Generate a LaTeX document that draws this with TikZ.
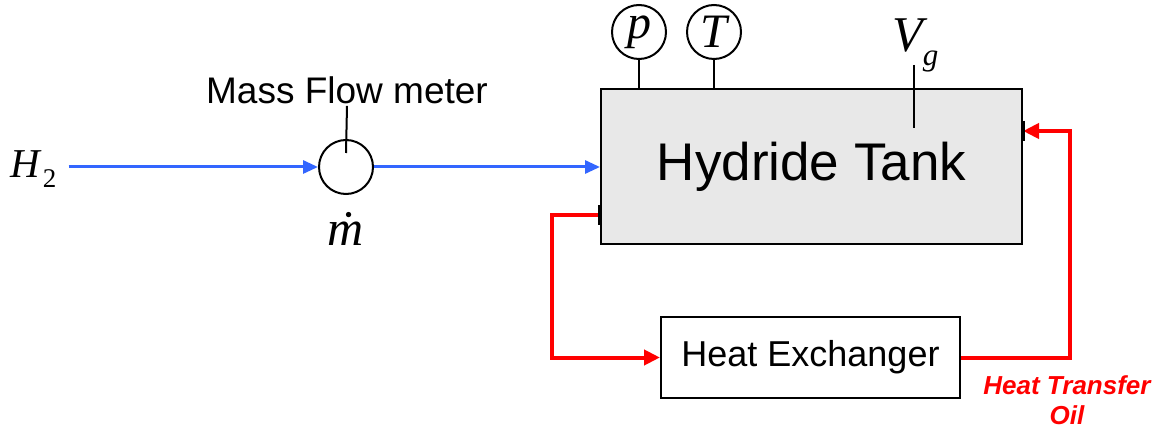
\documentclass[tikz,border=0pt]{standalone}
\usepackage{fontspec}
\setmainfont{Liberation Sans}
\newfontfamily\varfont{Liberation Serif}
\usetikzlibrary{arrows.meta,positioning,calc}
\definecolor{gasblue}{RGB}{51,102,255}
\definecolor{oilred}{RGB}{255,0,0}
\definecolor{tankgray}{RGB}{232,232,232}
\newcommand\fs[1]{\fontsize{#1}{#1}\selectfont}
\tikzset{
  >={Triangle[length=15pt,width=13pt]},
  gas/.style={draw=gasblue,line width=3pt,->},
  oil/.style={draw=oilred,line width=4pt,-{Triangle[length=16pt,width=15pt]}},
  gauge/.style={circle,draw,line width=2pt,minimum size=54pt,inner sep=0pt},
  unit/.style={draw,line width=2pt,inner sep=0pt,align=center},
  stem/.style={line width=2pt},
  port/.style={line width=3.5pt},
  var/.style={font=\varfont\itshape\fs{#1},inner sep=0pt},
  var/.default=46,
}

\begin{document}
\begin{tikzpicture}[x=1pt,y=-1pt]
  \useasboundingbox (0,0) rectangle (1161,430);
  % tank and heat exchanger
  \node[unit,fill=tankgray,minimum width=421pt,minimum height=155pt,font=\fs{53}] (tank) at (811.5,166.5) {Hydride Tank};
  \node[unit,fill=white,minimum width=299pt,minimum height=81pt,font=\fs{36}] (hx) at (810.5,357.5) {Heat Exchanger};
  % mass flow meter
  \node[gauge] (mfm) at (346,167) {};
  \node[font=\fs{37},inner sep=2pt] (mfmlab) at (347,90) {Mass Flow meter};
  \node[var=50] (mdot) at (346,229) {\.{m}};
  \node[var=41,anchor=base west] (h2) at (10,178) {H\hspace{3pt}\raisebox{-10pt}{\upshape\fs{27}2}};
  \draw[stem] (mfmlab.south) -- ([yshift=14pt]mfm.center);
  % sensors on the tank
  \node[gauge,var=48] (p) at (639,32) {p};
  \node[gauge,var=48] (T) at (714,32) {T};
  \node[var=50,anchor=base west] (vg) at (892,52) {V\raisebox{-14pt}{\fs{31}g}};
  \coordinate (vgtop) at (914,65);
  \coordinate (vgend) at (914,128);
  \foreach \s in {p,T}
    \draw[stem] (\s.south) -- (\s.south |- tank.north);
  \draw[stem] (vgtop) -- (vgend);
  % hydrogen line
  \draw[gas,shorten <=12pt] (h2.east |- mfm.west) -- (mfm.west);
  \draw[gas] (mfm.east) -- (mfm.east -| tank.west);
  % oil loop
  \coordinate (oilout) at ([yshift=30pt]tank.south west);
  \coordinate (oilin) at ([yshift=-43pt]tank.north east);
  \draw[oil] (oilout) -- ++(-48,0) |- (hx.west);
  \draw[oil] (hx.east) -- ++(109,0) |- (oilin);
  \foreach \c in {oilout,oilin}
    \draw[port] ([yshift=10pt]\c) -- ([yshift=-10pt]\c);
  \node[text=oilred,font=\bfseries\itshape\fontsize{26}{30}\selectfont,align=center] (oillab) at (1067,400) {Heat Transfer\\Oil};
\end{tikzpicture}
\end{document}
